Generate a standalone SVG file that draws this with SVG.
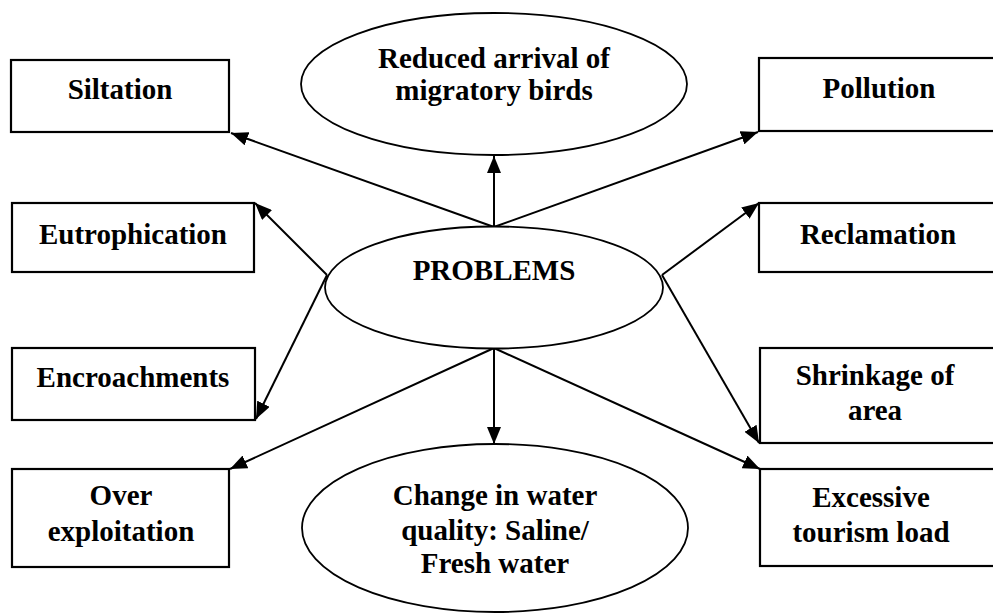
<svg xmlns="http://www.w3.org/2000/svg" width="993" height="614" viewBox="0 0 993 614">
  <style>
    .box { fill: #fff; stroke: #000; stroke-width: 2.2; }
    .oval { fill: #fff; stroke: #000; stroke-width: 1.8; }
    .lbl { font-family: "Liberation Serif", "Times New Roman", serif; font-weight: bold; font-size: 29px; fill: #000; text-anchor: middle; }
    .conn { stroke: #000; stroke-width: 2; fill: none; marker-end: url(#head); }
  </style>
  <defs>
    <marker id="head" markerUnits="userSpaceOnUse" markerWidth="18" markerHeight="14" refX="17" refY="7" orient="auto">
      <path d="M0,0 L17,7 L0,14 Z" fill="#000"/>
    </marker>
  </defs>
  <rect width="993" height="614" fill="#fff"/>

  <!-- connectors from the central PROBLEMS node -->
  <g id="connectors">
    <line class="conn" x1="494" y1="227" x2="231" y2="133"/>
    <line class="conn" x1="494" y1="227" x2="494" y2="156"/>
    <line class="conn" x1="494" y1="227" x2="758" y2="132"/>
    <line class="conn" x1="327" y1="275" x2="255" y2="203"/>
    <line class="conn" x1="327" y1="275" x2="256" y2="419"/>
    <line class="conn" x1="662" y1="275" x2="759" y2="203"/>
    <line class="conn" x1="662" y1="275" x2="759" y2="443"/>
    <line class="conn" x1="494" y1="348" x2="230" y2="469"/>
    <line class="conn" x1="494" y1="348" x2="494" y2="444"/>
    <line class="conn" x1="494" y1="348" x2="760" y2="469"/>
  </g>

  <g id="problems">
    <ellipse class="oval" cx="494" cy="287.5" rx="169" ry="61"/>
    <text class="lbl" x="494" y="280">PROBLEMS</text>
  </g>

  <g id="migratory-birds">
    <ellipse class="oval" cx="494" cy="84" rx="193" ry="71"/>
    <text class="lbl" x="494" y="68">Reduced arrival of</text>
    <text class="lbl" x="494" y="100">migratory birds</text>
  </g>

  <g id="water-quality">
    <ellipse class="oval" cx="495" cy="528" rx="193" ry="84"/>
    <text class="lbl" x="495" y="505">Change in water</text>
    <text class="lbl" x="495" y="540">quality: Saline/</text>
    <text class="lbl" x="495" y="573">Fresh water</text>
  </g>

  <g id="siltation">
    <rect class="box" x="11" y="60" width="218" height="72"/>
    <text class="lbl" x="120" y="99">Siltation</text>
  </g>

  <g id="eutrophication">
    <rect class="box" x="12" y="203" width="242" height="69"/>
    <text class="lbl" x="133" y="244">Eutrophication</text>
  </g>

  <g id="encroachments">
    <rect class="box" x="12" y="348" width="243" height="72"/>
    <text class="lbl" x="133" y="387">Encroachments</text>
  </g>

  <g id="over-exploitation">
    <rect class="box" x="12" y="469" width="217" height="98"/>
    <text class="lbl" x="121" y="505">Over</text>
    <text class="lbl" x="121" y="541">exploitation</text>
  </g>

  <g id="pollution">
    <rect class="box" x="759" y="58" width="250" height="73"/>
    <text class="lbl" x="879" y="98">Pollution</text>
  </g>

  <g id="reclamation">
    <rect class="box" x="759" y="203" width="250" height="69"/>
    <text class="lbl" x="878" y="244">Reclamation</text>
  </g>

  <g id="shrinkage">
    <rect class="box" x="760" y="348" width="250" height="95"/>
    <text class="lbl" x="875" y="385">Shrinkage of</text>
    <text class="lbl" x="875" y="420">area</text>
  </g>

  <g id="tourism">
    <rect class="box" x="760" y="469" width="250" height="97"/>
    <text class="lbl" x="871" y="507">Excessive</text>
    <text class="lbl" x="871" y="542">tourism load</text>
  </g>
</svg>
